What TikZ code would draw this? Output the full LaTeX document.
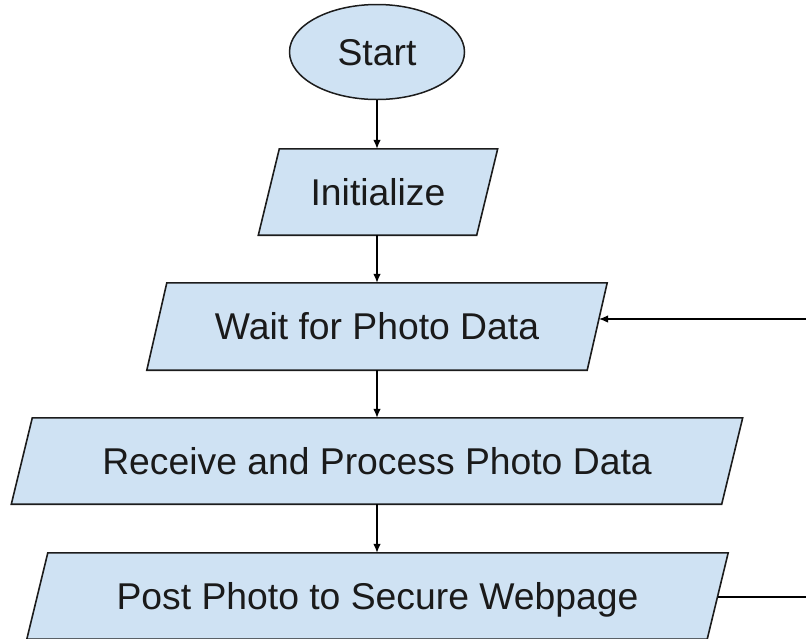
\documentclass[tikz,border=0pt]{standalone}
\usepackage{fontspec}
\setmainfont{Liberation Sans}
\usetikzlibrary{shapes.geometric,arrows.meta,calc,backgrounds}

\definecolor{boxfill}{HTML}{CFE2F3}
\definecolor{boxline}{HTML}{1C1C1C}
\definecolor{inktext}{HTML}{1A1A1A}

\tikzset{
  label text/.style={font=\fontsize{37.3}{45}\selectfont, text=inktext, inner sep=0pt,
    text height=26.7pt, text depth=0pt},
  terminal/.style={label text, ellipse, draw=boxline, fill=boxfill, line width=1.5pt},
  iobox/.style={label text, rectangle, draw=none},
  iofill/.style={draw=boxline, fill=boxfill, line width=1.6pt, line join=miter},
  flow/.style={draw=black, line width=1.3pt, -{Latex[length=9pt,width=7.5pt]}},
  plain/.style={draw=black, line width=1.3pt}
}

% parallelogram behind a rectangular node; #2 = horizontal half-slant
\newcommand{\ioshape}[2]{%
  \path[iofill] ($(#1.south west)+(-#2,0)$) -- ($(#1.north west)+(#2,0)$)
    -- ($(#1.north east)+(#2,0)$) -- ($(#1.south east)+(-#2,0)$) -- cycle;}

\begin{document}
\begin{tikzpicture}[x=1pt,y=-1pt]
  \useasboundingbox (0,0) rectangle (806,638);
  \clip (0,0) rectangle (806,638);

  \node[terminal, minimum width=175, minimum height=95] (start) at (377,52) {Start};
  \node[iobox, minimum width=218, minimum height=86] (init) at (378,192) {Initialize};
  \node[iobox, minimum width=440, minimum height=87] (wait) at (377,326.5) {Wait for Photo Data};
  \node[iobox, minimum width=710, minimum height=86] (recv) at (377,461) {Receive and Process Photo Data};
  \node[iobox, minimum width=680, minimum height=86] (post) at (377.5,596) {Post Photo to Secure Webpage};

  \begin{scope}[on background layer]
    \ioshape{init}{10.5}
    \ioshape{wait}{10}
    \ioshape{recv}{10.5}
    \ioshape{post}{10.5}
  \end{scope}

  \coordinate (loopin) at (806,319);
  \coordinate (loopout) at (806,597);
  \coordinate (waitedge) at ($(wait.east)+(1.8,-7.5)$);

  \draw[flow] (start.south) -- (start.south |- init.north);
  \draw[flow] (start.south |- init.south) -- (start.south |- wait.north);
  \draw[flow] (start.south |- wait.south) -- (start.south |- recv.north);
  \draw[flow] (start.south |- recv.south) -- (start.south |- post.north);
  \draw[flow] (loopin) -- (waitedge);
  \draw[plain] ($(post.east)+(0,1)$) -- (loopout);
\end{tikzpicture}
\end{document}
